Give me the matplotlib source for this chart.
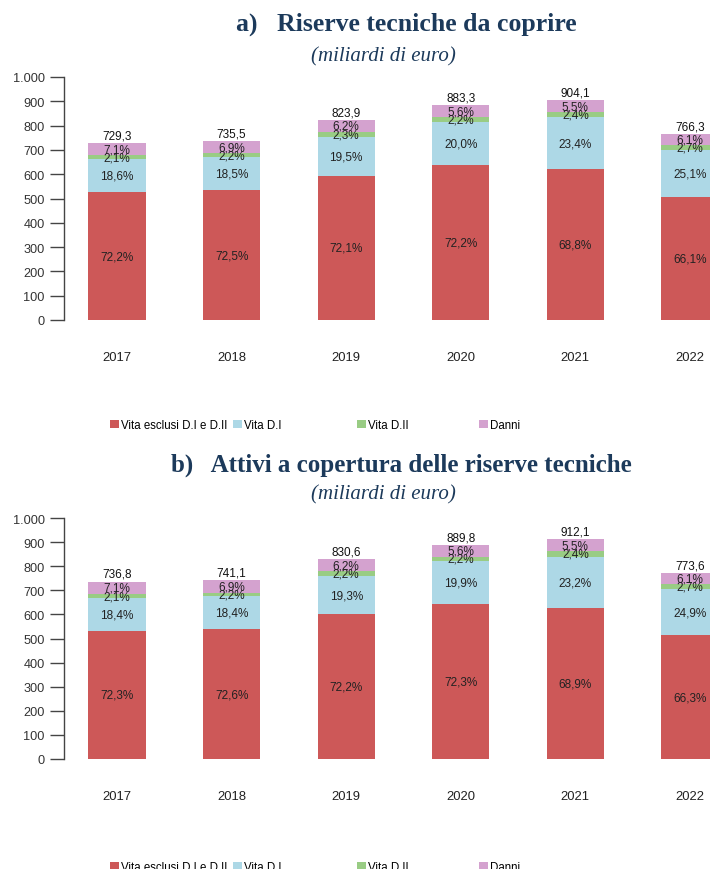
import matplotlib.pyplot as plt

anni = ['2017', '2018', '2019', '2020', '2021', '2022']
categorie = ['Vita esclusi D.I e D.II', 'Vita D.I', 'Vita D.II', 'Danni']
colori = ['#CD5858', '#ADD8E6', '#99CC84', '#D4A2CF']

# a) riserve tecniche da coprire: totali (mld) e quote percentuali
riserve_tot = [729.3, 735.5, 823.9, 883.3, 904.1, 766.3]
riserve_vita = [72.2, 72.5, 72.1, 72.2, 68.8, 66.1]
riserve_di = [18.6, 18.5, 19.5, 20.0, 23.4, 25.1]
riserve_dii = [2.1, 2.2, 2.3, 2.2, 2.4, 2.7]
riserve_danni = [7.1, 6.9, 6.2, 5.6, 5.5, 6.1]

# b) attivi a copertura delle riserve tecniche
attivi_tot = [736.8, 741.1, 830.6, 889.8, 912.1, 773.6]
attivi_vita = [72.3, 72.6, 72.2, 72.3, 68.9, 66.3]
attivi_di = [18.4, 18.4, 19.3, 19.9, 23.2, 24.9]
attivi_dii = [2.1, 2.2, 2.2, 2.2, 2.4, 2.7]
attivi_danni = [7.1, 6.9, 6.2, 5.6, 5.5, 6.1]

W, H = 710, 870
TITLE_COL = '#1C3A5B'


def fmt_it(v, dec=1):
    return f'{v:.{dec}f}'.replace('.', ',')


def pannello(fig, top_px, bottom_px, totali, quote):
    ax = fig.add_axes([64 / W, 1 - bottom_px / H, 646 / W, (bottom_px - top_px) / H])
    x = list(range(len(anni)))
    base = [0.0] * len(anni)
    handles = []
    for cat, col, pct in zip(categorie, colori, quote):
        h = [t * p / 100 for t, p in zip(totali, pct)]
        bars = ax.bar(x, h, bottom=base, width=0.5, color=col, label=cat)
        handles.append(bars)
        for xi, b, hi, p in zip(x, base, h, pct):
            ax.text(xi, b + hi / 2, fmt_it(p) + '%', ha='center', va='center',
                    fontsize=8.5, color='#222222', family='Liberation Sans')
        base = [b + hi for b, hi in zip(base, h)]
    for xi, t in zip(x, totali):
        ax.text(xi, t + 6, fmt_it(t), ha='center', va='bottom', fontsize=8.5,
                color='#111111', family='Liberation Sans', clip_on=False)

    ax.set_xlim(-0.4625, 5.175)
    ax.set_ylim(0, 1000)
    ax.set_yticks(range(0, 1001, 100))
    ax.set_yticklabels([f'{v:,}'.replace(',', '.') for v in range(0, 1001, 100)],
                       family='Liberation Sans')
    ax.set_xticks(x)
    ax.set_xticklabels(anni, family='Liberation Sans')
    ax.tick_params(axis='y', length=10, width=1, color='#444444', labelsize=9.2,
                   labelcolor='#333333', pad=4)
    ax.tick_params(axis='x', length=0, labelsize=9.4, labelcolor='#222222', pad=22)
    for s in ['top', 'right', 'bottom']:
        ax.spines[s].set_visible(False)
    ax.spines['left'].set_color('#444444')
    ax.spines['left'].set_linewidth(1)
    return handles


def legenda(fig, handles, y_px):
    for hnd, cat, x_px in zip(handles, categorie, [110, 233, 357, 479]):
        fig.legend(handles=[hnd], labels=[cat], loc='center left',
                   bbox_to_anchor=(x_px / W, 1 - y_px / H), frameon=False,
                   handlelength=0.75, handleheight=0.75, handletextpad=0.2,
                   borderpad=0, borderaxespad=0,
                   prop={'family': 'Liberation Sans', 'size': 8.3})


fig = plt.figure(figsize=(W / 100, H / 100), dpi=100)

fig.text(406 / W, 1 - 24 / H, 'a)   Riserve tecniche da coprire', ha='center', va='center',
         fontsize=18.5, fontweight='bold', color=TITLE_COL, family='Liberation Serif')
fig.text(383 / W, 1 - 57 / H, '(miliardi di euro)', ha='center', va='center',
         fontsize=15, style='italic', color=TITLE_COL, family='Liberation Serif')
h_a = pannello(fig, 78, 321, riserve_tot, [riserve_vita, riserve_di, riserve_dii, riserve_danni])
legenda(fig, h_a, 426)

fig.text(401 / W, 1 - 465 / H, 'b)   Attivi a copertura delle riserve tecniche', ha='center',
         va='center', fontsize=18, fontweight='bold', color=TITLE_COL, family='Liberation Serif')
fig.text(383 / W, 1 - 495 / H, '(miliardi di euro)', ha='center', va='center',
         fontsize=15, style='italic', color=TITLE_COL, family='Liberation Serif')
h_b = pannello(fig, 519, 760, attivi_tot, [attivi_vita, attivi_di, attivi_dii, attivi_danni])
legenda(fig, h_b, 868)

fig.savefig('out.png', dpi=100)
